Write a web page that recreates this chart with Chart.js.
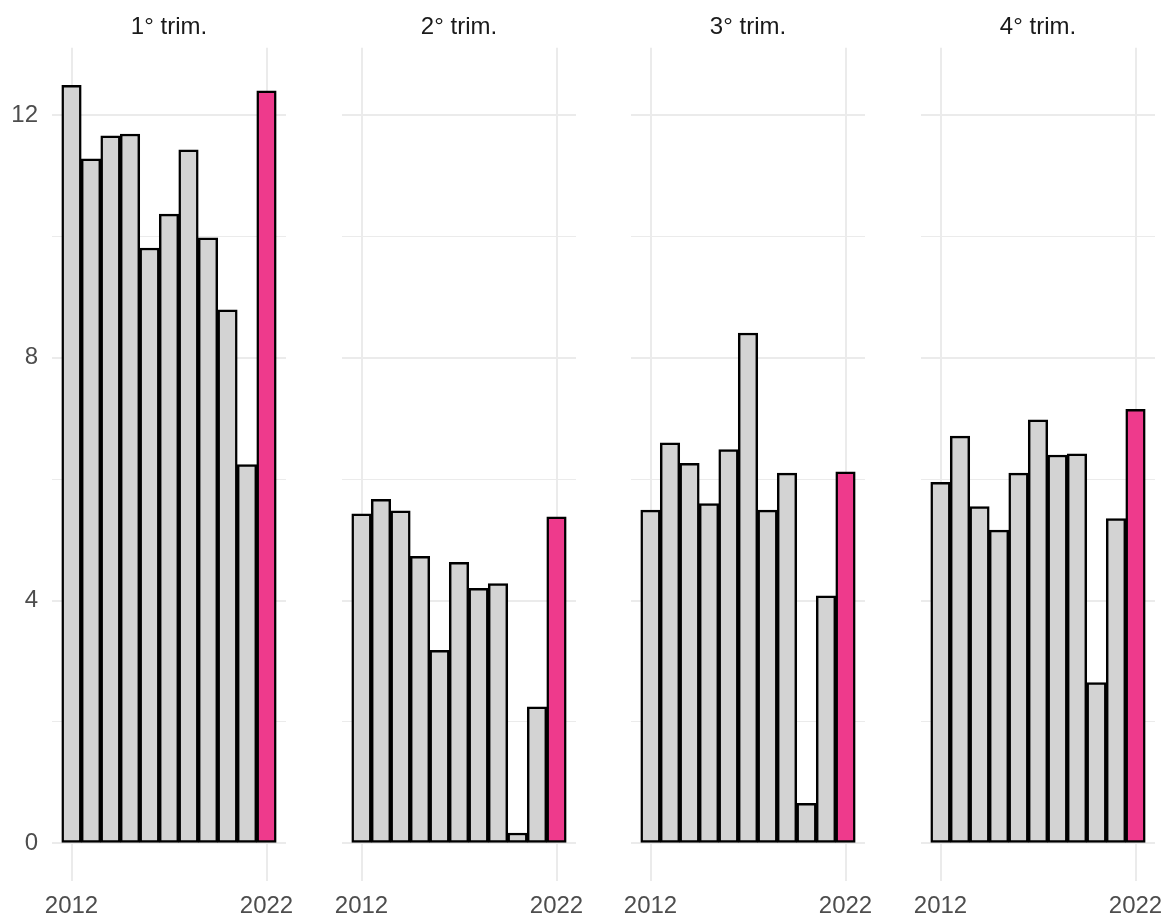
<!DOCTYPE html>
<html>
<head>
<meta charset="utf-8">
<script src="https://cdn.jsdelivr.net/npm/chart.js@4.4.1/dist/chart.umd.min.js"></script>
<style>
  html, body { margin: 0; padding: 0; background: #fff; }
  #wrap { position: relative; width: 1173px; height: 915px; overflow: hidden; }
  .panel { position: absolute; top: 0; height: 932px; width: 306px; }
</style>
</head>
<body>
<div id="wrap"></div>
<script>
// data
const years = [2012, 2013, 2014, 2015, 2016, 2017, 2018, 2019, 2020, 2021, 2022];
const quarters = ['1° trim.', '2° trim.', '3° trim.', '4° trim.'];
const q1 = [12.49, 11.28, 11.66, 11.69, 9.81, 10.37, 11.43, 9.98, 8.79, 6.24, 12.40];
const q2 = [5.43, 5.67, 5.48, 4.73, 3.18, 4.63, 4.20, 4.28, 0.17, 2.25, 5.38];
const q3 = [5.49, 6.60, 6.26, 5.60, 6.49, 8.41, 5.49, 6.10, 0.66, 4.08, 6.12];
const q4 = [5.95, 6.71, 5.55, 5.16, 6.10, 6.98, 6.40, 6.42, 2.65, 5.35, 7.15];
const yTicks = [0, 2, 4, 6, 8, 10, 12];
const xTicks = [2012, 2022];

const series = [q1, q2, q3, q4];
const grey = '#d3d3d3';
const pink = '#EE3A8C';
const font = "'Liberation Sans', Arial, sans-serif";

const wrap = document.getElementById('wrap');

series.forEach((vals, i) => {
    const plotLeft = 52 + 289.5 * i;
    const div = document.createElement('div');
    div.className = 'panel';
    div.style.left = (plotLeft - 52) + 'px';
    const canvas = document.createElement('canvas');
    div.appendChild(canvas);
    wrap.appendChild(div);

    new Chart(canvas.getContext('2d'), {
        type: 'bar',
        data: {
            datasets: [{
                data: years.map((y, j) => ({x: y, y: vals[j]})),
                backgroundColor: years.map(y => y === 2022 ? pink : grey),
                borderColor: '#000',
                borderWidth: 2.5,
                borderSkipped: false,
                barPercentage: 1,
                categoryPercentage: 1
            }]
        },
        options: {
            responsive: true,
            maintainAspectRatio: false,
            animation: false,
            layout: { padding: { left: 0, right: 20, top: 0, bottom: 0 } },
            plugins: {
                legend: { display: false },
                tooltip: { enabled: false },
                title: {
                    display: true,
                    text: quarters[i],
                    fullSize: false,
                    color: '#1a1a1a',
                    font: { family: font, size: 24, weight: 'normal' },
                    padding: { top: 13, bottom: 6 }
                }
            },
            scales: {
                x: {
                    type: 'linear',
                    min: 2011.0,
                    max: 2023.0,
                    offset: false,
                    afterBuildTicks: (scale) => { scale.ticks = xTicks.map(v => ({value: v})); },
                    border: { display: false },
                    grid: { color: '#ebebeb', lineWidth: 2, drawTicks: false, offset: false },
                    ticks: {
                        color: '#4d4d4d',
                        font: { family: font, size: 24 },
                        padding: 11,
                        maxRotation: 0,
                        callback: (v) => String(v)
                    }
                },
                y: {
                    min: -0.6245,
                    max: 13.11,
                    afterBuildTicks: (scale) => { scale.ticks = yTicks.map(v => ({value: v})); },
                    afterFit: (scale) => { scale.width = 52; },
                    border: { display: false },
                    grid: {
                        drawTicks: false,
                        color: '#ebebeb',
                        lineWidth: (ctx) => ctx.tick && ctx.tick.value % 4 === 0 ? 2 : 1
                    },
                    ticks: {
                        display: i === 0,
                        color: '#4d4d4d',
                        font: { family: font, size: 24 },
                        padding: 14,
                        callback: (v) => v % 4 === 0 ? String(v) : ''
                    }
                }
            }
        }
    });
});
</script>
</body>
</html>
